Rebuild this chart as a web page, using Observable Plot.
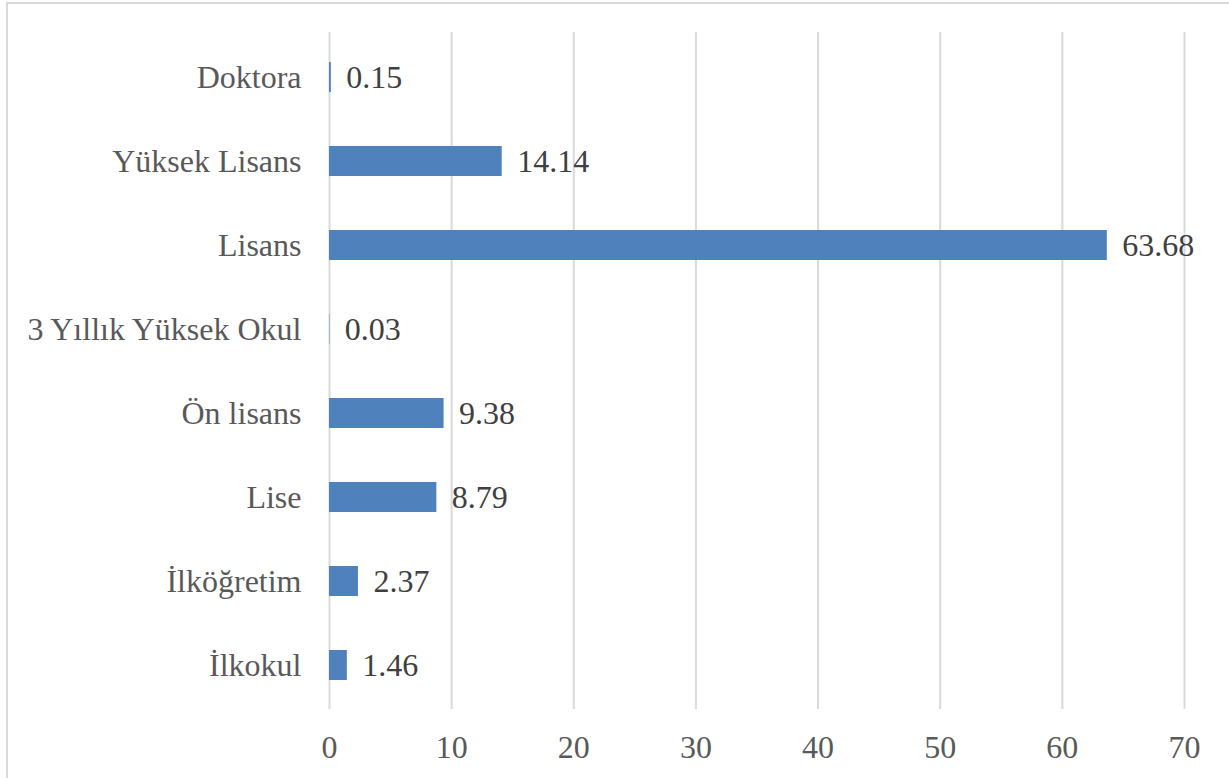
<!DOCTYPE html>
<html>
<head>
<meta charset="utf-8">
<script src="https://cdn.jsdelivr.net/npm/d3@7"></script>
<script src="https://cdn.jsdelivr.net/npm/@observablehq/plot@0.6"></script>
<style>
  html, body { margin: 0; padding: 0; background: #fff; }
  #wrap { position: relative; width: 1229px; height: 778px; overflow: hidden; }
  #border { position: absolute; left: 6px; top: 2px; width: 1230px; height: 790px; border: 2px solid #d9d9d9; box-sizing: border-box; pointer-events: none; }
  #wrap svg { position: absolute; left: 0; top: 0; }
  #wrap svg, #wrap svg text { font-family: "Liberation Serif", "Times New Roman", serif !important; }
</style>
</head>
<body>
<div id="wrap"><div id="border"></div></div>
<script>
const categories = ["Doktora", "Yüksek Lisans", "Lisans", "3 Yıllık Yüksek Okul", "Ön lisans", "Lise", "İlköğretim", "İlkokul"];
const values = [0.15, 14.14, 63.68, 0.03, 9.38, 8.79, 2.37, 1.46];
const xTicks = [0, 10, 20, 30, 40, 50, 60, 70];

const data = categories.map((c, i) => ({category: c, value: values[i]}));

const chart = Plot.plot({
  width: 1229,
  height: 778,
  marginLeft: 329,
  marginRight: 45,
  marginTop: 32,
  marginBottom: 69,
  style: {fontSize: "32px", color: "#595959", background: "transparent"},
  x: {domain: [0, 70], ticks: xTicks, grid: false, label: null},
  y: {domain: categories, paddingInner: 0.645, paddingOuter: 0.3225, label: null},
  marks: [
    Plot.ruleX(xTicks, {stroke: "#d9d9d9", strokeWidth: 2, strokeOpacity: 1}),
    Plot.barX(data, {x: "value", y: "category", fill: "#4f81bd"}),
    Plot.text(data, {x: "value", y: "category", text: d => d.value.toFixed(2), textAnchor: "start", dx: 15, fill: "#404040", fontSize: 32}),
    Plot.axisX({ticks: xTicks, tickSize: 0, tickPadding: 26, fontSize: 32, tickFormat: d => String(d), fill: "#595959", label: null}),
    Plot.axisY({tickSize: 0, tickPadding: 28, fontSize: 32, fill: "#595959", label: null})
  ]
});
document.getElementById("wrap").prepend(chart);
</script>
</body>
</html>
